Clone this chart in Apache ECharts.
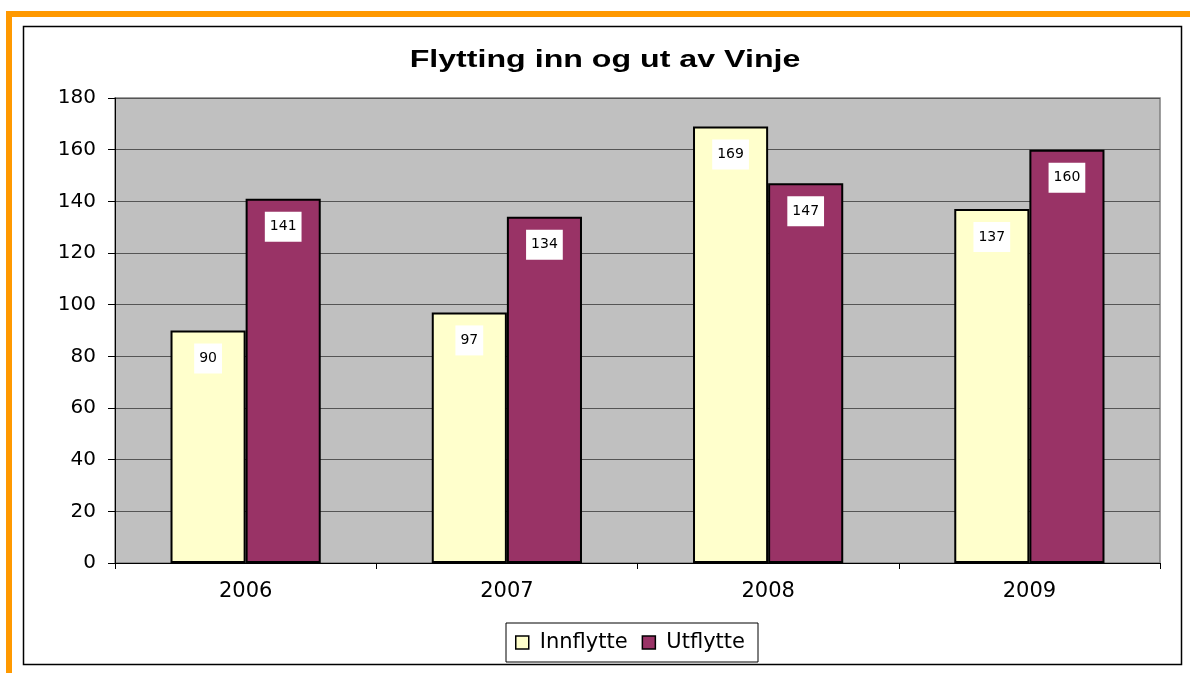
<!DOCTYPE html>
<html><head><meta charset="utf-8">
<script src="https://cdn.jsdelivr.net/npm/echarts@6/dist/echarts.min.js"></script>
<style>html,body{margin:0;padding:0;background:#fff}#c{width:1190px;height:675px}</style>
</head><body><div id="c"></div>
<script>
const title = 'Flytting inn og ut av Vinje';
const categories = ['2006', '2007', '2008', '2009'];
const seriesNames = ['Innflytte', 'Utflytte'];
const innflytte = [90, 97, 169, 137];
const utflytte = [141, 134, 147, 160];

const chart = echarts.init(document.getElementById('c'), null, {renderer: 'canvas'});
const font = 'DejaVu Sans, Verdana, sans-serif';
const labelStyle = {
  show: true, position: 'insideTop', distance: 13,
  backgroundColor: '#fff', padding: [8, 5, 8, 5],
  color: '#000', fontSize: 14, fontFamily: font
};
chart.setOption({
  animation: false,
  graphic: [
    {type: 'rect', shape: {x: 6, y: 11, width: 1184, height: 6}, style: {fill: '#FF9900'}, z: 0},
    {type: 'rect', shape: {x: 6, y: 11, width: 6, height: 662}, style: {fill: '#FF9900'}, z: 0},
    {type: 'rect', shape: {x: 23.5, y: 26.5, width: 1158, height: 638}, style: {fill: 'none', stroke: '#000', lineWidth: 1.5}, z: 0},
    {type: 'text', x: 605, y: 60, scaleX: 1.34, z: 10,
     style: {text: title, x: 0, y: 0, align: 'center', verticalAlign: 'middle',
             font: 'bold 24px "Liberation Sans", Arial, sans-serif', fill: '#000'}}
  ],
  legend: {
    left: 506, top: 623,
    padding: [9, 13, 9, 9],
    borderColor: '#000', borderWidth: 1, backgroundColor: '#fff',
    itemWidth: 13, itemHeight: 13, itemGap: 14,
    icon: 'rect',
    textStyle: {fontSize: 21, fontFamily: font, color: '#000', padding: [0, 0, 0, 6]},
    itemStyle: {borderColor: '#000', borderWidth: 1.5}
  },
  grid: {
    left: 115, right: 30, top: 98, bottom: 112,
    show: true, backgroundColor: '#C0C0C0', borderColor: '#808080', borderWidth: 1.5
  },
  xAxis: {
    type: 'category', data: categories,
    axisLine: {lineStyle: {color: '#000', width: 1}},
    axisTick: {show: true, length: 6, lineStyle: {color: '#000'}},
    axisLabel: {fontSize: 21, fontFamily: font, color: '#000', margin: 18}
  },
  yAxis: {
    type: 'value', min: 0, max: 180, interval: 20,
    axisLine: {show: true, lineStyle: {color: '#000', width: 1}},
    axisTick: {show: true, length: 7, lineStyle: {color: '#000'}},
    axisLabel: {fontSize: 20, fontFamily: font, color: '#000', margin: 19},
    splitLine: {lineStyle: {color: '#555', width: 1.2}}
  },
  series: [
    {name: seriesNames[0], type: 'bar', data: innflytte, barGap: '0%', barCategoryGap: '42.5%',
     itemStyle: {color: '#FFFFCC', borderColor: '#000', borderWidth: 2}, label: labelStyle},
    {name: seriesNames[1], type: 'bar', data: utflytte, barGap: '0%', barCategoryGap: '42.5%',
     itemStyle: {color: '#993366', borderColor: '#000', borderWidth: 2}, label: labelStyle}
  ]
});
</script></body></html>
